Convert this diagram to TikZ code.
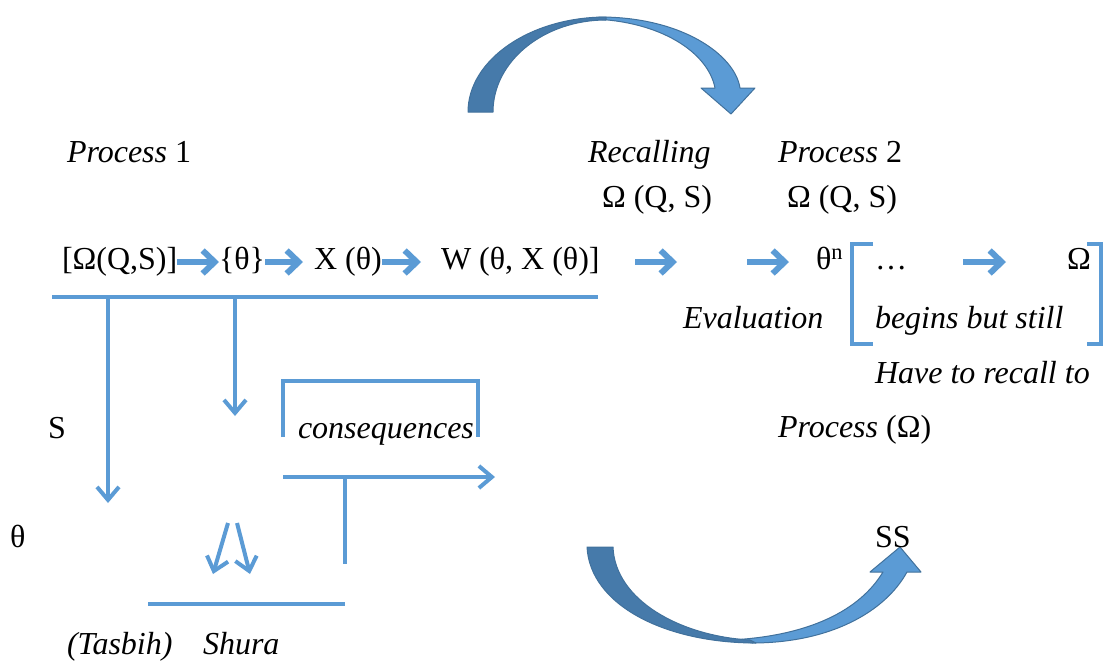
\documentclass[tikz,border=0pt]{standalone}
\usepackage{fontspec}
\setmainfont{Liberation Serif}
\usetikzlibrary{arrows.meta}
\definecolor{lineblue}{RGB}{91,155,213}
\definecolor{darkblue}{RGB}{70,122,170}
\definecolor{edgeblue}{RGB}{65,113,156}
\begin{document}
\begin{tikzpicture}[x=1pt,y=-1pt,
  font=\fontsize{32}{38}\selectfont,
  lbl/.style={anchor=base west, inner sep=0pt, outer sep=0pt},
  conn/.style={draw=lineblue, line width=4pt},
  arr/.style={conn, -{Straight Barb[length=13pt,width=22pt]}},
  rowarr/.style={draw=lineblue, line width=6pt, -{Straight Barb[length=12pt,width=23pt]}},
  lightpart/.style={fill=lineblue, draw=edgeblue, line width=1pt, line join=round},
  darkpart/.style={fill=darkblue, draw=edgeblue, line width=1pt, line join=round}]
\useasboundingbox (0,0) rectangle (1104,662);

% ---- curved arrow at the top ----
\fill[lightpart] (600,17) .. controls (682,17) and (735,55) .. (740,88)
  -- (755,88) -- (731,114) -- (701,88) -- (715,88)
  .. controls (708,52) and (660,21) .. (592,19) -- cycle;
\fill[darkpart] (468,112) .. controls (468,60) and (530,17) .. (606,17)
  -- (606,20) .. controls (544,20) and (493,61) .. (493,112) -- cycle;

% ---- curved arrow at the bottom ----
\fill[lightpart] (752,643) .. controls (830,643) and (885,612) .. (907,572)
  -- (921,572) -- (900,547) -- (870,572) -- (883,572)
  .. controls (860,610) and (810,636) .. (730,640) -- cycle;
\fill[darkpart] (587,547) .. controls (590,605) and (665,643) .. (756,643)
  -- (750,640) .. controls (680,636) and (615,600) .. (613,547) -- cycle;

% ---- labels ----
\node[lbl] (p1) at (67,162) {\textit{Process} 1};
\node[lbl] (rec) at (588,162) {\textit{Recalling}};
\node[lbl] (p2) at (778,162) {\textit{Process} 2};
\node[lbl] (oq1) at (602,207) {Ω (Q, S)};
\node[lbl] (oq2) at (787,207) {Ω (Q, S)};
\node[lbl] (a) at (62,269) {[Ω(Q,S)]};
\node[lbl] (b) at (219,269) {\{θ\}};
\node[lbl] (c) at (314,269) {X (θ)};
\node[lbl] (d) at (441,269) {W (θ, X (θ)]};
\node[lbl] (e) at (816,269) {θ\textsuperscript{n}};
\node[lbl] (dots) at (875,269) {…};
\node[lbl] (om) at (1067,269) {Ω};
\node[lbl] (ev) at (683,328) {\textit{Evaluation}};
\node[lbl] (bb) at (875,328) {\textit{begins but still}};
\node[lbl] (hr) at (875,383) {\textit{Have to recall to}};
\node[lbl] (pO) at (778,437) {\textit{Process} (Ω)};
\node[lbl] (S) at (48,438) {S};
\node[lbl] (cons) at (298,438) {\textit{consequences}};
\node[lbl] (th) at (10,547) {θ};
\node[lbl] (SS) at (875,547) {SS};
\node[lbl] (tas) at (67,654) {\textit{(Tasbih)}};
\node[lbl] (shu) at (203,654) {\textit{Shura}};

% ---- process 1 chain ----
\coordinate (rowy) at (0,262);
\draw[rowarr] (a.east |- rowy) -- (b.west |- rowy);
\draw[rowarr] (b.east |- rowy) -- ([xshift=-11pt]c.west |- rowy);
\draw[rowarr] (c.east |- rowy) -- ([xshift=-20pt]d.west |- rowy);

% ---- process 2 chain ----
\coordinate (r1s) at (635,262);
\coordinate (r1e) at (677,262);
\coordinate (r2s) at (747,262);
\coordinate (r2e) at (789,262);
\coordinate (r3s) at (963,262);
\coordinate (r3e) at (1006,262);
\draw[rowarr] (r1s) -- (r1e);
\draw[rowarr] (r2s) -- (r2e);
\draw[rowarr] (r3s) -- (r3e);

% brackets round the evaluation text
\draw[conn] (873,244) -- (852,244) -- (852,344) -- (873,344);
\draw[conn] (1087,244) -- (1101,244) -- (1101,344) -- (1087,344);

% ---- branches below process 1 ----
\coordinate (bl) at (52,297);
\coordinate (br) at (598,297);
\coordinate (v1) at (108,297);
\coordinate (v1e) at (108,503);
\coordinate (v2) at (235,297);
\coordinate (v2e) at (235,416);
\draw[conn] (bl) -- (br);
\draw[arr] (v1) -- (v1e);
\draw[arr] (v2) -- (v2e);

% consequences frame
\draw[conn] (283,437) -- (283,381) -- (478,381) -- (478,437);

% consequence arrow and its stem
\coordinate (ca) at (283,477);
\coordinate (cb) at (495,477);
\coordinate (cj) at (345,477);
\coordinate (cs) at (345,564);
\draw[arr] (ca) -- (cb);
\draw[conn] (cj) -- (cs);

% pair of arrows towards Shura
\coordinate (s1) at (228,523);
\coordinate (s1e) at (213,574);
\coordinate (s2) at (237,523);
\coordinate (s2e) at (250,574);
\draw[arr] (s1) -- (s1e);
\draw[arr] (s2) -- (s2e);

% base line
\coordinate (g1) at (148,604);
\coordinate (g2) at (345,604);
\draw[conn] (g1) -- (g2);
\end{tikzpicture}
\end{document}
